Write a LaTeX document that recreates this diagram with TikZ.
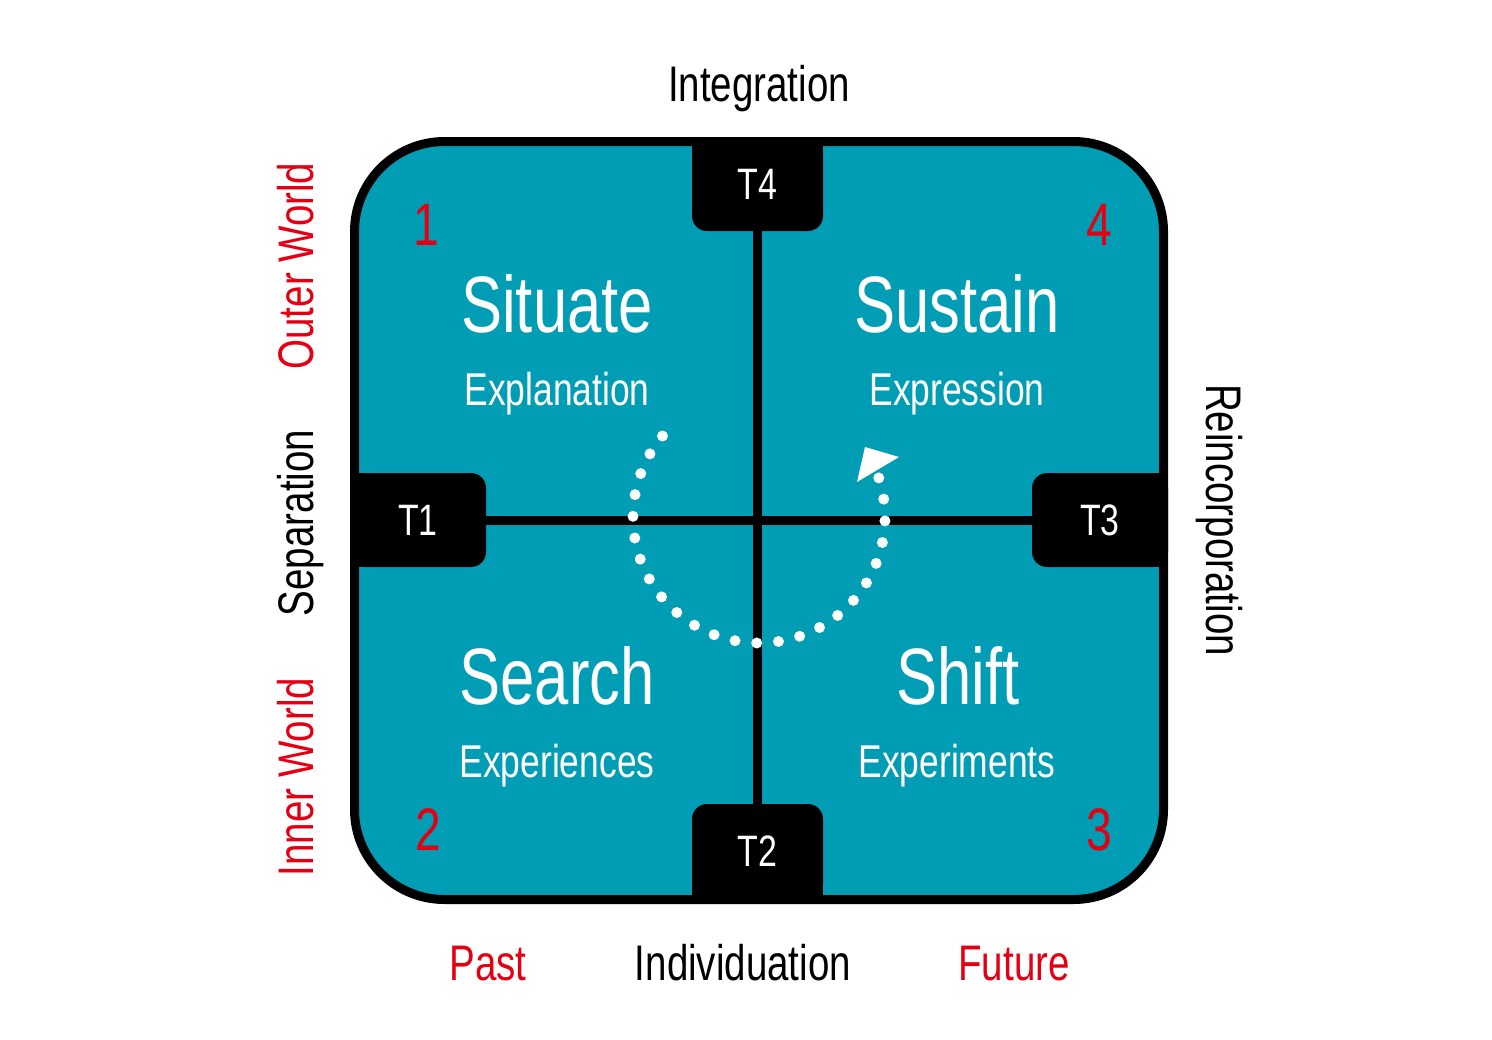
\documentclass[tikz,border=0pt]{standalone}
\usepackage{fontspec}
\setmainfont[FakeStretch=0.77]{Liberation Sans}
\usepackage{tikz}
\usetikzlibrary{backgrounds}
\definecolor{quadteal}{RGB}{0,157,181}
\definecolor{markred}{RGB}{228,0,18}

\begin{document}
\begin{tikzpicture}[x=0.5pt,y=-0.5pt,
  tbox/.style={fill=black,text=white,rounded corners=7.5pt,inner sep=0pt,minimum height=47pt,font=\fontsize{22}{24}\selectfont},
  lab/.style={anchor=base,font=\fontsize{25}{28}\selectfont},
  big/.style={anchor=base,text=white,font=\fontsize{40}{44}\selectfont},
  sub/.style={anchor=base,text=white,font=\fontsize{23}{26}\selectfont},
  num/.style={anchor=base,text=markred,font=\fontsize{30}{32}\selectfont}]
\useasboundingbox (0,0) rectangle (1492,1039);
% the four quadrants
\begin{pgfonlayer}{background}
\fill[quadteal,rounded corners=45pt] (354.5,141.5) rectangle (1163.5,899.5);
\end{pgfonlayer}
% transition boxes
\node[tbox,minimum width=68pt] (t1) at (418,520) {T1};
\node[tbox,minimum width=68pt] (t3) at (1100,520) {T3};
\node[tbox,minimum width=65.5pt] (t4) at (757.5,184) {T4};
\node[tbox,minimum width=65.5pt] (t2) at (757.5,851) {T2};
\begin{pgfonlayer}{background}
\fill (t1.north west) rectangle (t1.south);
\fill (t3.north east) rectangle (t3.south);
\fill (t4.north west) rectangle (t4.east);
\fill (t2.south west) rectangle (t2.east);
\end{pgfonlayer}
\draw[line width=4.5pt] (t4) -- (t2);
\draw[line width=4.5pt] (t1) -- (t3);
\draw[line width=4.5pt,rounded corners=45pt] (354.5,141.5) rectangle (1163.5,899.5);
% the cycle
\foreach \i in {0,...,24}
  \fill[white] ({759+126*cos(140+9.92*\i)},{517-126*sin(140+9.92*\i)}) circle[radius=5.5];
\fill[white] (865,447) -- (899,457) -- (857,482) -- cycle;
% quadrant texts
\node[big] (situate) at (557,332) {Situate};
\node[sub] (explanation) at (557,405) {Explanation};
\node[big] (sustain) at (957,332) {Sustain};
\node[sub] (expression) at (957,405) {Expression};
\node[big] (search) at (557,704) {Search};
\node[sub] (experiences) at (557,777) {Experiences};
\node[big] (shift) at (958,704) {Shift};
\node[sub] (experiments) at (957,777) {Experiments};
\node[num] (n1) at (426,245) {1};
\node[num] (n4) at (1099,245) {4};
\node[num] (n2) at (428,850) {2};
\node[num] (n3) at (1099,850) {3};
% outside labels
\node[lab] (integ) at (759,101) {Integration};
\node[lab] (indiv) at (743,980) {Individuation};
\node[lab,text=markred] (past) at (488,980) {Past};
\node[lab,text=markred] (future) at (1014,980) {Future};
\node[lab,rotate=90,text=markred] (outer) at (313,266) {Outer World};
\node[lab,rotate=90] (separ) at (313,523) {Separation};
\node[lab,rotate=90,text=markred] (inner) at (313,777) {Inner World};
\node[lab,rotate=-90] (reinc) at (1206,520) {Reincorporation};
\end{tikzpicture}
\end{document}
